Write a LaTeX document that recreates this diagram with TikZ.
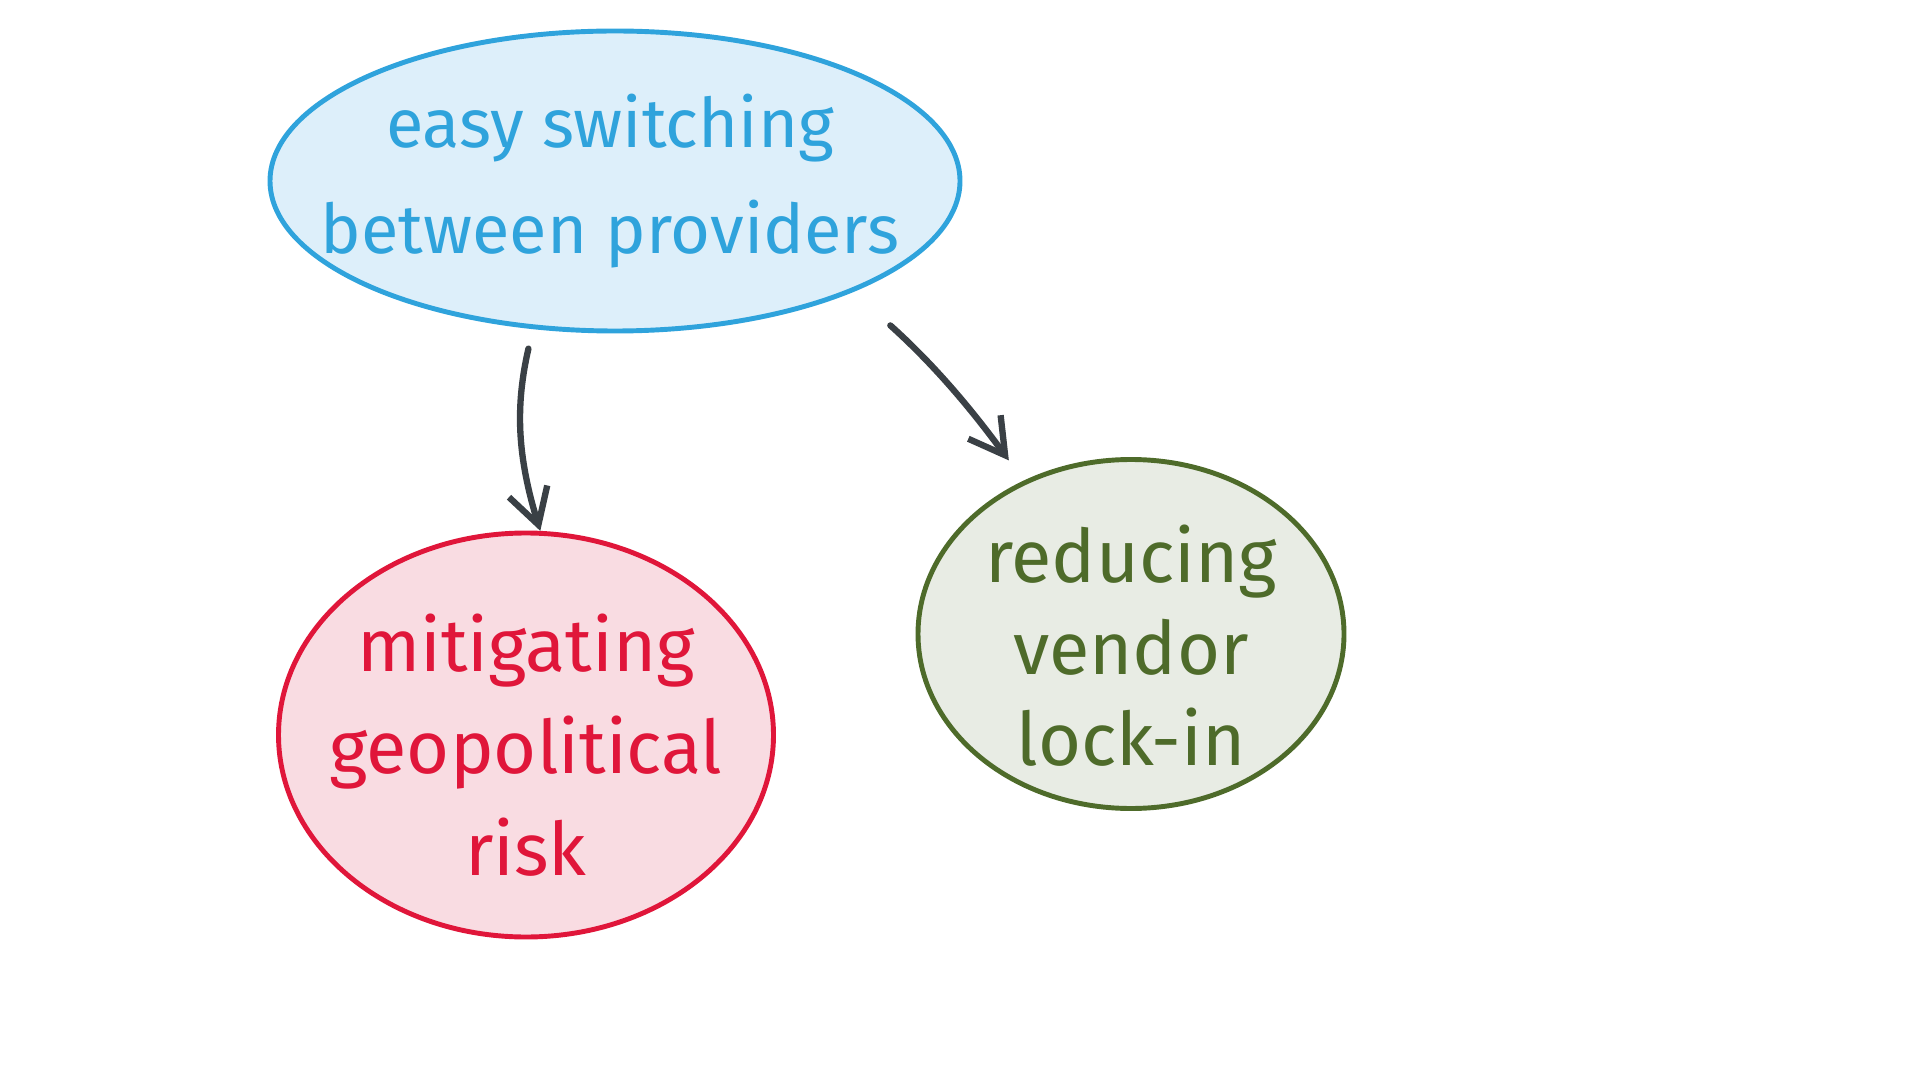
\documentclass[tikz,border=0pt]{standalone}
\usepackage{fontspec}
\setmainfont{Fira Sans}
\usepackage{xcolor}
\usetikzlibrary{arrows.meta,positioning,shapes.geometric}
\definecolor{skyline}{HTML}{2FA3DC}
\definecolor{skyfill}{HTML}{DDEFFA}
\definecolor{riskline}{HTML}{E0163A}
\definecolor{riskfill}{HTML}{F9DCE2}
\definecolor{lockline}{HTML}{4E6B2A}
\definecolor{lockfill}{HTML}{E8ECE4}
\definecolor{inkgray}{HTML}{3A4045}

\begin{document}
\begin{tikzpicture}[
   blob/.style={draw, ellipse, line width=1.4pt, inner sep=0pt},
   words/.style={align=center, inner sep=0pt},
   ar/.style={-{Straight Barb[length=3.5mm, width=4mm]}, line width=1.8pt, draw=inkgray, line cap=round}
]
\useasboundingbox (0,0) rectangle (19.2,-10.8);
\node[blob, draw=skyline, fill=skyfill, minimum width=6.9cm, minimum height=3.0cm,
      label={[words, text=skyline, font=\fontsize{19.5}{30}\selectfont, xshift=-0.5mm, yshift=0mm]center:easy switching\\between providers}] (easy) at (6.15,-1.81) {};
\node[blob, draw=riskline, fill=riskfill, minimum width=4.95cm, minimum height=4.04cm,
      label={[words, text=riskline, font=\fontsize{21}{29}\selectfont, yshift=-1mm]center:mitigating\\geopolitical\\risk}] (risk) at (5.26,-7.35) {};
\node[blob, draw=lockline, fill=lockfill, minimum width=4.26cm, minimum height=3.49cm,
      label={[words, text=lockline, font=\fontsize{21}{26}\selectfont, yshift=-1.2mm]center:reducing\\vendor\\lock-in}] (lock) at (11.31,-6.34) {};

\draw[ar, shorten <=2mm] (easy.-119) to[bend right=15] (risk.86);
\draw[ar, shorten <=5mm, shorten >=2.5mm] (easy.-25) to[bend left=6] (lock.125);
\end{tikzpicture}
\end{document}
